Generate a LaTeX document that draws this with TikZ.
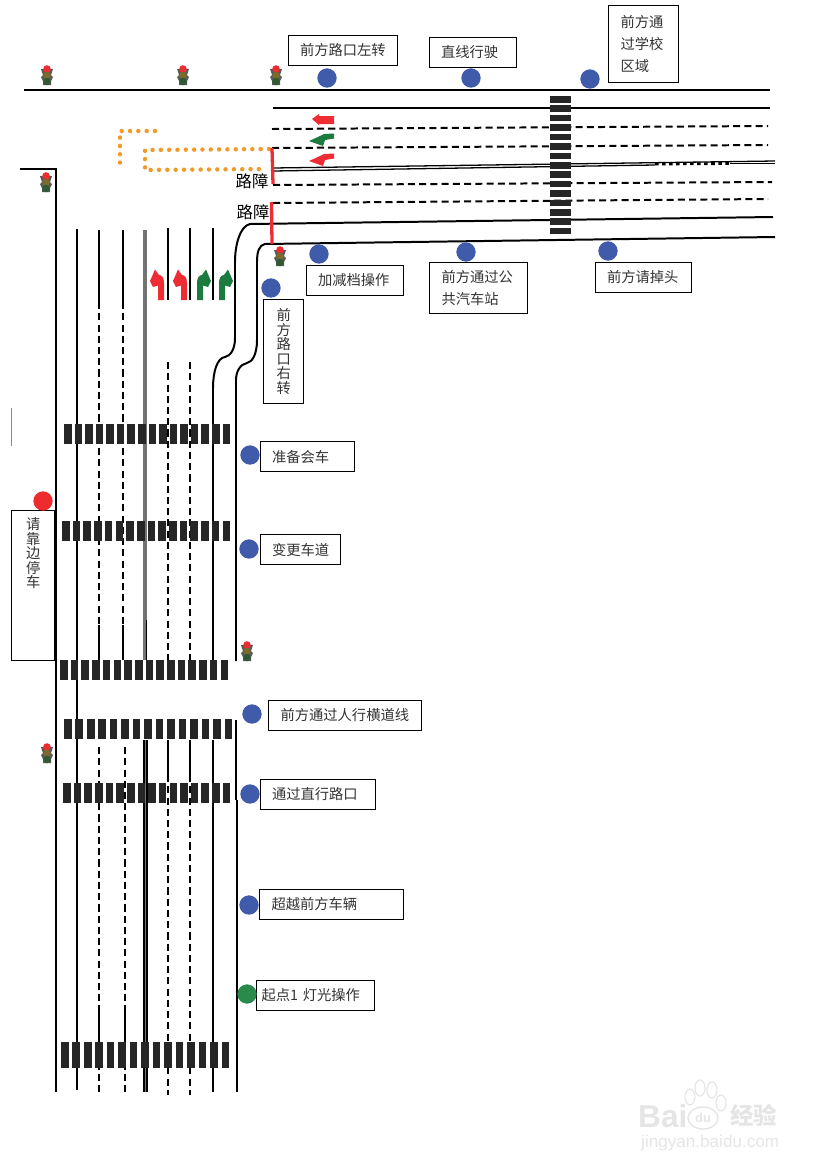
\documentclass[tikz,border=0pt]{standalone}
\usepackage{fontspec}
\setmainfont{Noto Sans CJK SC}
\newfontfamily\wmfont{Liberation Sans}
\definecolor{dotblue}{HTML}{3F5BA9}
\definecolor{dotgreen}{HTML}{2A8A4C}
\definecolor{sigred}{HTML}{EE2C2F}
\definecolor{sigolive}{HTML}{7C6A2C}
\definecolor{sigdark}{HTML}{2F5A34}
\definecolor{barsred}{HTML}{EE2C34}
\definecolor{arrgreen}{HTML}{1C7C40}
\definecolor{dotorange}{HTML}{F09A28}
\definecolor{zebra}{HTML}{262626}
\tikzset{
  lamp/.pic={
    \fill[black!65] (-6,-6) -- (6,-6) -- (4,0) -- (6,2) -- (4,6) -- (4,10) -- (-4,10) -- (-4,6) -- (-6,2) -- (-4,0) -- cycle;
    \fill[sigred] (0,-6) circle (3.8);
    \fill[sigolive] (0,0.5) circle (3.8);
    \fill[sigdark] (0,6.5) circle (3.8);},
  turn/.pic={
    \fill (1,0) -- (7,0) -- (7,-17) .. controls (7,-22) and (5,-25) .. (2,-25) -- (-2,-30.5) -- (-7,-19) -- (-4,-13) -- (1,-14.5) -- cycle;},
  bend/.pic={
    \fill (0,-4.5) -- (0,0.5) -- (-9,2) -- (-11,8) -- (-25,3) -- (-14,-2) -- (-10,-4) -- cycle;}
}
\begin{document}
\begin{tikzpicture}[x=0.03cm,y=-0.03cm,
  road/.style={line width=1.7pt},
  lane/.style={line width=1.7pt,dash pattern=on 6pt off 3.6pt},
  dots/.style={dotorange,line width=3.8pt,line cap=round,dash pattern=on 0pt off 7.1pt},
  barrier/.style={barsred,line width=2.8pt},
  lbl/.style={draw,line width=0.9pt,fill=white,text=black!80,inner ysep=0pt,align=left,anchor=north west,
    font=\fontsize{12.2}{18.7}\selectfont},
  tall/.style={font=\fontsize{12.2}{12.4}\selectfont},
  blob/.style={circle,fill=dotblue,minimum size=0.58cm,inner sep=0pt}]
\useasboundingbox (0,0) rectangle (827,1170);
% top road
\draw[road] (24,90) -- (770,90);
\draw[road] (273,108) -- (770,108);
\draw[lane] (272,129) -- (768,126);
\draw[lane] (272,148) -- (768,145);
\draw[road,line width=1.1pt] (273,168) -- (775,161);
\draw[road,line width=1.1pt] (273,171) -- (655,165);
\draw[line width=2.4pt,dash pattern=on 3pt off 3pt] (655,164) -- (730,163.5);
\draw[road,line width=1.1pt] (730,163.5) -- (775,163.5);
\draw[lane] (273,185) -- (772,182);
\draw[lane] (273,203) -- (768,199);
% curved kerbs
\draw[road] (773,217) -- (250,224) .. controls (240,226) and (235,245) .. (235,262) -- (235,338) .. controls (235,350) and (230,356) .. (225,357) .. controls (217,358) and (213,372) .. (213,388) -- (213,662);
\draw[road] (775,237) -- (265,244) .. controls (259,245) and (257,252) .. (257,262) -- (257,340) .. controls (257,355) and (252,362) .. (247,363) .. controls (240,364) and (236,372) .. (236,380) -- (236,661);
% side road
\draw[road] (20,169) -- (56,169) -- (56,1092);
\draw[road] (77,229) -- (77,1090);
\draw[road] (213,228) -- (213,300);
\draw[road] (213,740) -- (213,1092);
\draw[road] (236,720) -- (236,800);
\draw[road] (237,800) -- (237,1092);
\draw[black!55,line width=3pt] (145,230) -- (145,660);
\draw[black!55,line width=3pt] (145,740) -- (145,1092);
\draw[road,line width=1pt] (146.5,620) -- (146.5,660);
\foreach \x in {144,147}{\draw[road,line width=1pt] (\x,740) -- (\x,1092);}
\foreach \x/\xb in {99/99,123/125}{%
  \draw[road] (\x,230) -- (\x,302);
  \draw[lane] (\x,302) -- (\x,625);
  \draw[road] (\x,625) -- (\x,660);
  \draw[lane] (\xb,747) -- (\xb,1005);
  \draw[road] (\xb,1005) -- (\xb,1040);
  \draw[lane] (\xb,1040) -- (\xb,1095);}
\foreach \x in {168,190}{%
  \draw[road] (\x,228) -- (\x,300);
  \draw[lane] (\x,362) -- (\x,660);
  \draw[road] (\x,740) -- (\x,775);
  \draw[lane] (\x,775) -- (\x,1095);}
% zebra crossings
\foreach \x/\y/\n/\p/\h in {64/424/15/10.57/20,62/521/15/10.7/20,60/660/15/10.7/20,64/719/14/11.47/20,63/783/15/10.65/20,61/1042/14/11.47/26}{%
  \foreach \i in {0,...,\n}{\fill[zebra] (\x+\i*\p,\y) rectangle ++(7.6,\h);}}
\foreach \i in {0,...,14}{\fill[zebra] (550,99+\i*9.42-3) rectangle ++(20.5,6.6);}
% orange route
\draw[dots] (155,131) -- (120,131) -- (120,165);
\draw[dots] (269,149) -- (145,150) -- (145,170) -- (264,169);
% lane arrows
\foreach \x in {157,180}{\pic[barsred] at (\x,300) {turn};}
\foreach \x in {204,226}{\pic[arrgreen,xscale=-1] at (\x,300) {turn};}
\fill[barsred] (312,119) -- (319,114) -- (319,116) -- (334,116) -- (334,124) -- (319,124) -- (319,125) -- cycle;
\pic[arrgreen] at (334,138) {bend};
\pic[barsred] at (334,158) {bend};
% barriers
\draw[barrier] (272,148) -- (273,184);
\draw[barrier] (271.5,202) -- (272,244);
\node[font=\fontsize{14}{15}\selectfont,inner sep=0pt] (rb1) at (252,181) {路障};
\node[font=\fontsize{14}{15}\selectfont,inner sep=0pt] (rb2) at (253,212) {路障};
% signals
\foreach \n/\x/\y in {1/47/75,2/183/75,3/276/75,4/46/182,5/280/256,6/247/651,7/47/753}{%
  \pic (sig\n) at (\x,\y) {lamp};}
% captions
\foreach \n/\x/\y/\bw/\bh/\pd/\txt in {
  left/288/35/109/30/11.5/前方路口左转,
  straight/429/37/87/30/11.5/直线行驶,
  school/608/5/70/77/12/前方通\\过学校\\区域,
  gear/306/265/97/30/11.5/加减档操作,
  bus/429/262/98/51/12/前方通过公\\共汽车站,
  uturn/595/262/96/30/11.5/前方请掉头,
  meet/260/441/94/30/11.5/准备会车,
  change/260/534/80/30/11.5/变更车道,
  walk/268/700/153/30/12/前方通过人行横道线,
  cross/260/779/115/30/11.5/通过直行路口,
  pass/259/889/144/30/12/超越前方车辆,
  start/256/980/118/30/5/起点1 灯光操作}{%
  \node[lbl,text width={(\bw-2*\pd)*0.03cm},inner xsep=\pd*0.03cm,minimum height=\bh*0.03cm] (\n) at (\x,\y) {\txt};}
\node[lbl,tall,text width=0.42cm,minimum height=104*0.03cm,inner xsep=13*0.03cm] (right) at (263,299) {前\\方\\路\\口\\右\\转};
\node[lbl,tall,text width=0.42cm,inner xsep=14.5*0.03cm,text depth=105.5pt,inner ysep=6pt] (stop) at (11,510) {请\\靠\\边\\停\\车};
% points
\foreach \n/\x/\y in {a/327/78,b/471/78,c/590/79,d/319/254,e/466/252,f/608/251,g/271/288,h/250/455,i/249/549,j/252/714,k/250/794,l/249/905}{%
  \node[blob] (p\n) at (\x,\y) {};}
\node[blob,fill=dotgreen] (pstart) at (247,994) {};
\node[blob,fill=sigred] (pstop) at (43,501) {};
\draw[black!45,line width=0.4pt] (11,408) -- (11,446);
% watermark
\node[text=black!10,font=\wmfont\bfseries\fontsize{27}{27}\selectfont,inner sep=0pt,anchor=west] (wmbai) at (638,1116) {Bai};
\foreach \n/\x/\y in {1/690/1097,2/700/1088,3/712/1090,4/721/1103}{%
  \draw[black!10,line width=1pt] (\x,\y) ellipse (5 and 8) node[inner sep=0pt] (toe\n) {};}
\draw[black!10,line width=1.2pt] (703,1118) ellipse (15 and 11);
\node[text=black!10,font=\wmfont\bfseries\fontsize{11}{11}\selectfont,inner sep=0pt] (wmdu) at (703,1118) {du};
\node[text=black!10,font=\bfseries\fontsize{20}{20}\selectfont,inner sep=0pt,anchor=west] (wmjy) at (730,1115) {经验};
\node[text=black!10,font=\wmfont\fontsize{14.6}{15}\selectfont,inner sep=0pt,anchor=west] (wmurl) at (641,1143) {jingyan.baidu.com};
\end{tikzpicture}
\end{document}
